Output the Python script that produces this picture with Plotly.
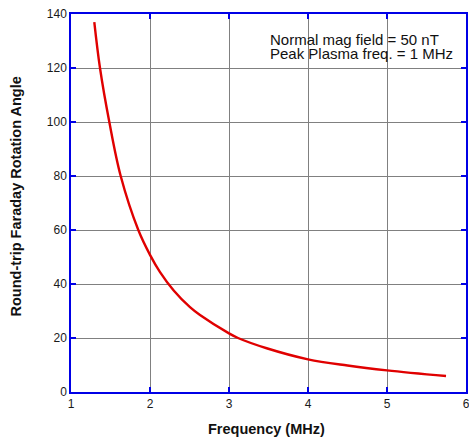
import plotly.graph_objects as go

freq_mhz = [1.295, 1.367, 1.485, 1.629, 1.852, 2.0, 2.127, 2.3, 2.506, 2.633, 3.0, 3.114, 3.477, 4.0, 4.5, 5.0, 5.747]
rotation_deg = [137, 120, 100, 80, 60, 50.8, 44.4, 37.6, 31.4, 28.5, 21.7, 20, 16.2, 12.1, 9.8, 8.0, 5.9]
x_ticks = [1, 2, 3, 4, 5, 6]
y_ticks = [0, 20, 40, 60, 80, 100, 120, 140]
note_lines = ["Normal mag field = 50 nT", "Peak Plasma freq. = 1 MHz"]
x_title = "Frequency (MHz)"
y_title = "Round-trip Faraday Rotation Angle"

FONT = "Liberation Sans, Arial, sans-serif"
BLUE = "#0000e6"
GRID = "#808080"

fig = go.Figure()
fig.add_trace(go.Scatter(
    x=freq_mhz, y=rotation_deg, mode="lines",
    line=dict(color="#e00000", width=2.4, shape="spline", smoothing=1.0),
    showlegend=False, hoverinfo="skip"))

axis_common = dict(
    showgrid=True, gridcolor=GRID, gridwidth=1,
    showline=True, linecolor=BLUE, linewidth=1.5, mirror="ticks",
    ticks="inside", ticklen=5, tickcolor=BLUE, tickwidth=1.5,
    zeroline=False, automargin=False, ticklabeloverflow="allow",
    tickfont=dict(family=FONT, size=12, color="#1a1a1a"),
)

fig.update_xaxes(range=[1, 6], tickvals=x_ticks, ticktext=[str(v) for v in x_ticks], **axis_common)
fig.update_yaxes(range=[0, 140], tickvals=y_ticks, ticktext=[str(v) for v in y_ticks], **axis_common)

# axis titles placed as annotations
fig.add_annotation(x=0.496, y=-0.098, xref="paper", yref="paper", text="<b>" + x_title + "</b>",
                   showarrow=False, xanchor="center", yanchor="middle", borderpad=0,
                   font=dict(family=FONT, size=14.5, color="#111"))
fig.add_annotation(x=-0.138, y=0.5185, xref="paper", yref="paper", text="<b>" + y_title + "</b>",
                   showarrow=False, textangle=-90, xanchor="center", yanchor="middle", borderpad=0,
                   font=dict(family=FONT, size=14.5, color="#111"))

note_y = [130.6, 125.4]
for txt, yy in zip(note_lines, note_y):
    fig.add_annotation(x=3.51, y=yy, xref="x", yref="y", text=txt, showarrow=False,
                       xanchor="left", yanchor="middle", borderpad=0,
                       font=dict(family=FONT, size=15, color="#111"))

fig.update_layout(
    width=469, height=438,
    margin=dict(l=71, r=3, t=14, b=46),
    paper_bgcolor="white", plot_bgcolor="white",
)

# remove the default 8px page margin so the figure sits at the window's top-left corner
fig.write_html("out.html", config={"displayModeBar": False},
               post_script="document.body.style.margin='0px';document.body.style.overflow='hidden';")
